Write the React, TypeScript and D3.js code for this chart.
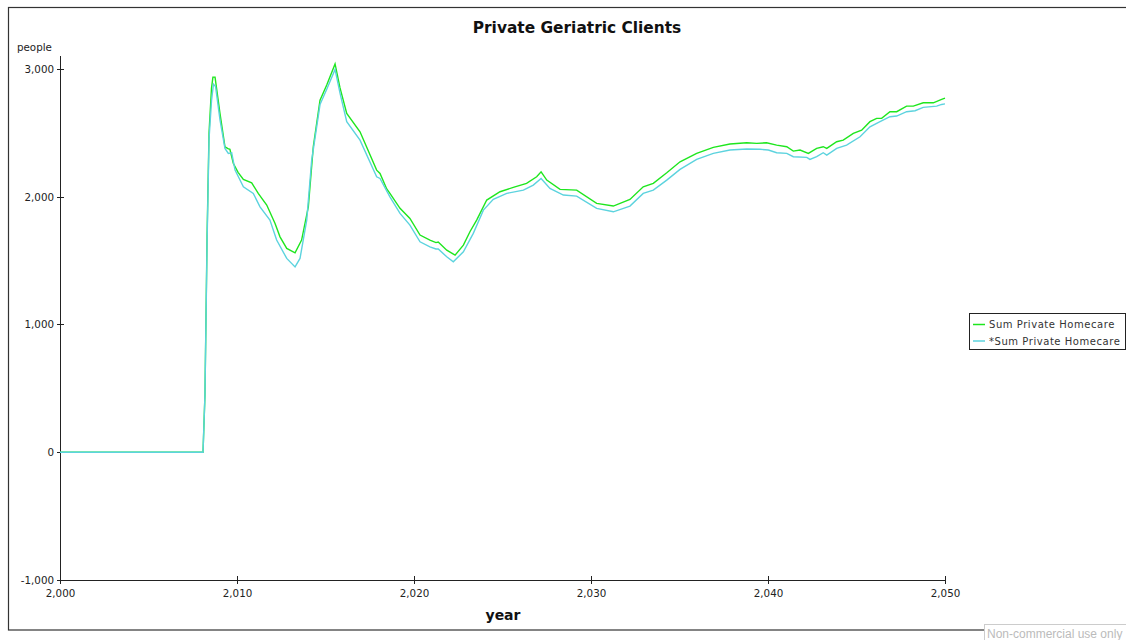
import React, { useEffect, useRef } from "react";
import * as d3 from "d3";

// Sum Private Homecare (people by year)
const sumYears = [2000, 2008.08, 2008.19, 2008.31, 2008.42, 2008.56, 2008.64, 2008.76, 2009.04, 2009.32, 2009.49, 2009.6, 2009.79, 2010.06, 2010.36, 2010.83, 2011.2, 2011.68, 2012.15, 2012.43, 2012.81, 2013.28, 2013.65, 2014.03, 2014.31, 2014.69, 2015.07, 2015.54, 2015.82, 2016.2, 2016.95, 2017.89, 2018.08, 2018.46, 2018.64, 2019.21, 2019.77, 2020.34, 2020.9, 2021.24, 2021.37, 2021.85, 2022.32, 2022.79, 2023.16, 2023.54, 2024.11, 2024.86, 2025.61, 2026.36, 2026.93, 2027.18, 2027.5, 2028.25, 2029.19, 2030.32, 2031.26, 2032.2, 2032.95, 2033.52, 2034.28, 2035.03, 2035.97, 2036.91, 2037.85, 2038.8, 2039.36, 2039.92, 2040.49, 2041.06, 2041.43, 2041.81, 2042.28, 2042.75, 2043.12, 2043.32, 2043.88, 2044.25, 2044.82, 2045.29, 2045.76, 2046.14, 2046.42, 2046.89, 2047.27, 2047.83, 2048.21, 2048.77, 2049.34, 2049.81, 2050];
const sumValues = [0, 0, 450, 1700, 2500, 2850, 2935, 2935, 2650, 2390, 2375, 2370, 2260, 2190, 2135, 2108, 2025, 1934, 1790, 1685, 1594, 1560, 1660, 1920, 2390, 2755, 2873, 3037, 2850, 2651, 2507, 2207, 2181, 2060, 2025, 1908, 1829, 1699, 1660, 1640, 1645, 1581, 1542, 1620, 1725, 1816, 1973, 2038, 2072, 2103, 2155, 2194, 2129, 2056, 2051, 1947, 1926, 1978, 2077, 2103, 2186, 2272, 2338, 2385, 2411, 2421, 2416, 2421, 2403, 2390, 2356, 2364, 2338, 2377, 2390, 2377, 2429, 2442, 2494, 2520, 2586, 2612, 2612, 2664, 2664, 2708, 2708, 2734, 2734, 2761, 2771];

// *Sum Private Homecare (comparison run)
const refYears = [2000, 2008.08, 2008.19, 2008.31, 2008.42, 2008.56, 2008.67, 2008.79, 2009.04, 2009.32, 2009.51, 2009.7, 2009.89, 2010.36, 2010.92, 2011.3, 2011.86, 2012.24, 2012.81, 2013.28, 2013.56, 2013.94, 2014.22, 2014.69, 2015.07, 2015.54, 2015.82, 2016.2, 2016.95, 2017.89, 2018.08, 2018.64, 2019.21, 2019.77, 2020.34, 2020.9, 2021.24, 2021.37, 2021.85, 2022.22, 2022.79, 2023.35, 2023.92, 2024.48, 2025.24, 2026.18, 2026.74, 2027.18, 2027.68, 2028.44, 2029.19, 2030.32, 2031.26, 2032.2, 2032.95, 2033.52, 2034.28, 2035.03, 2035.97, 2036.91, 2037.85, 2038.8, 2039.55, 2040.02, 2040.49, 2041.06, 2041.43, 2042.19, 2042.37, 2042.75, 2043.12, 2043.32, 2043.88, 2044.44, 2045.2, 2045.76, 2046.33, 2046.89, 2047.27, 2047.83, 2048.31, 2048.77, 2049.53, 2049.81, 2050];
const refValues = [0, 0, 450, 1650, 2450, 2750, 2880, 2860, 2600, 2377, 2338, 2343, 2207, 2077, 2025, 1920, 1816, 1660, 1516, 1450, 1516, 1816, 2286, 2720, 2840, 2995, 2810, 2586, 2442, 2155, 2142, 1998, 1868, 1777, 1646, 1607, 1590, 1590, 1529, 1490, 1568, 1712, 1894, 1978, 2025, 2051, 2090, 2142, 2064, 2012, 2004, 1908, 1881, 1926, 2025, 2051, 2129, 2213, 2291, 2338, 2364, 2372, 2370, 2364, 2343, 2338, 2312, 2307, 2291, 2312, 2343, 2325, 2377, 2403, 2468, 2546, 2586, 2625, 2630, 2664, 2672, 2698, 2708, 2721, 2725];

const xTicks = [2000, 2010, 2020, 2030, 2040, 2050];
const yTicks = [-1000, 0, 1000, 2000, 3000];

const seriesNames = ["Sum Private Homecare", "*Sum Private Homecare"];
const seriesColors = ["#1ee61e", "#5cd3de"];

const W = 1126;
const H = 640;
const FONT = "'DejaVu Sans', Verdana, sans-serif";

export default function App() {
  const ref = useRef<SVGSVGElement | null>(null);

  useEffect(() => {
    const svg = d3.select(ref.current);
    svg.selectAll("*").remove();

    const x = d3.scaleLinear().domain([2000, 2050]).range([60, 945]);
    const y = d3.scaleLinear().domain([-1000, 3100]).range([580, 56]);
    const fmt = (v: number) => d3.format(",")(v).replace("\u2212", "-");

    svg.append("rect").attr("width", W).attr("height", H).attr("fill", "#fff");

    // outer frame
    svg.append("rect")
      .attr("x", 8.5).attr("y", 7.5).attr("width", 1140).attr("height", 622.5)
      .attr("fill", "none").attr("stroke", "#333").attr("stroke-width", 1.2);

    // title
    svg.append("text")
      .attr("x", 577).attr("y", 32.5).attr("text-anchor", "middle")
      .attr("font-family", FONT).attr("font-weight", "bold").attr("font-size", 15.4)
      .attr("fill", "#111").text("Private Geriatric Clients");

    // axes
    const axisColor = "#222";
    svg.append("line").attr("x1", 60.5).attr("x2", 60.5).attr("y1", y(3100)).attr("y2", 580)
      .attr("stroke", axisColor);
    svg.append("line").attr("x1", 60).attr("x2", 945).attr("y1", 580.5).attr("y2", 580.5)
      .attr("stroke", axisColor);

    yTicks.forEach((t) => {
      const yy = Math.round(y(t)) + 0.5;
      svg.append("line").attr("x1", 57).attr("x2", 64).attr("y1", yy).attr("y2", yy).attr("stroke", axisColor);
      svg.append("text").attr("x", 54).attr("y", yy + 3.5).attr("text-anchor", "end")
        .attr("font-family", FONT).attr("font-size", 10.3).attr("fill", "#222").text(fmt(t));
    });

    xTicks.forEach((t) => {
      const xx = Math.round(x(t)) + 0.5;
      svg.append("line").attr("x1", xx).attr("x2", xx).attr("y1", 576).attr("y2", 584).attr("stroke", axisColor);
      svg.append("text").attr("x", xx).attr("y", 597).attr("text-anchor", "middle")
        .attr("font-family", FONT).attr("font-size", 10.3).attr("fill", "#222").text(fmt(t));
    });

    svg.append("text").attr("x", 17).attr("y", 51)
      .attr("font-family", FONT).attr("font-size", 10.3).attr("fill", "#222").text("people");

    svg.append("text").attr("x", 503).attr("y", 620).attr("text-anchor", "middle")
      .attr("font-family", FONT).attr("font-weight", "bold").attr("font-size", 14)
      .attr("fill", "#111").text("year");

    // series lines (comparison run drawn on top)
    const line = d3.line<[number, number]>().x((d) => x(d[0])).y((d) => y(d[1]));
    const refData = refYears.map((yr, i) => [yr, refValues[i]] as [number, number]);
    const sumData = sumYears.map((yr, i) => [yr, sumValues[i]] as [number, number]);

    svg.append("path").datum(sumData).attr("d", line).attr("fill", "none")
      .attr("stroke", seriesColors[0]).attr("stroke-width", 1.4);
    svg.append("path").datum(refData).attr("d", line).attr("fill", "none")
      .attr("stroke", seriesColors[1]).attr("stroke-width", 1.4);

    // legend
    svg.append("rect").attr("x", 969.5).attr("y", 313.5).attr("width", 156).attr("height", 36)
      .attr("fill", "#fff").attr("stroke", "#222");
    seriesNames.forEach((name, i) => {
      const ly = 324.5 + i * 16.5;
      svg.append("line").attr("x1", 973).attr("x2", 985).attr("y1", ly).attr("y2", ly)
        .attr("stroke", seriesColors[i]).attr("stroke-width", 1.5);
      svg.append("text").attr("x", 989).attr("y", ly + 3.5)
        .attr("font-family", FONT).attr("font-size", 10).attr("letter-spacing", 0.55)
        .attr("fill", "#333").text(name);
    });

    // license note
    svg.append("rect").attr("x", 984.5).attr("y", 624.5).attr("width", 150).attr("height", 20)
      .attr("fill", "#fff").attr("stroke", "#ccc");
    svg.append("text").attr("x", 987).attr("y", 637.5)
      .attr("font-family", "'Liberation Sans', Arial, sans-serif").attr("font-size", 12)
      .attr("fill", "#bbb").text("Non-commercial use only");
  }, []);

  return (
    <svg
      ref={ref}
      width={W}
      height={H}
      style={{ position: "absolute", left: 0, top: 0, display: "block" }}
    />
  );
}
